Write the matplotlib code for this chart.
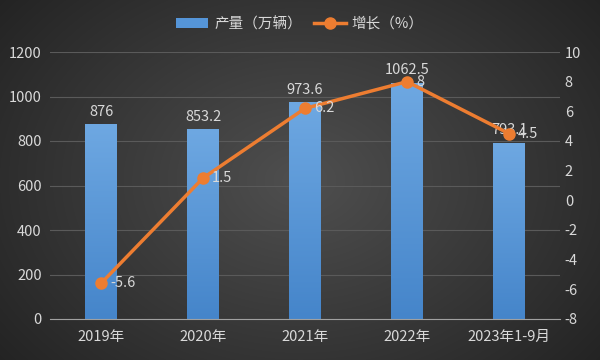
import numpy as np
import matplotlib
matplotlib.use("Agg")
import matplotlib.pyplot as plt
from matplotlib.lines import Line2D
from matplotlib.patches import Patch
from matplotlib.colors import LinearSegmentedColormap

plt.rcParams['font.family'] = ['Noto Sans CJK SC', 'DejaVu Sans']
plt.rcParams['axes.unicode_minus'] = False

categories = ["2019年", "2020年", "2021年", "2022年", "2023年1-9月"]
production = [876, 853.2, 973.6, 1062.5, 793.1]
growth = [-5.6, 1.5, 6.2, 8, 4.5]
prod_labels = ["876", "853.2", "973.6", "1062.5", "793.1"]
growth_labels = ["-5.6", "1.5", "6.2", "8", "4.5"]

W, H = 600, 360
fig = plt.figure(figsize=(W/100, H/100), dpi=100)

# background radial gradient
bg = fig.add_axes([0, 0, 1, 1])
yy, xx = np.mgrid[0:H, 0:W]
r = np.sqrt(((xx - W/2)/(W*0.6))**2 + ((yy - H/2)/(H*0.75))**2)
val = np.clip(0.31 - 0.16*r, 0.13, 0.31)
img = np.dstack([val, val, val])
bg.imshow(img, aspect='auto', extent=[0, 1, 0, 1])
bg.axis('off')

txt = '#d9d9d9'
fs = 10.5
ax = fig.add_axes([50/W, 1-319/H, (560-50)/W, (319-52)/H])
ax.patch.set_alpha(0)
x = np.arange(len(categories))
bars = ax.bar(x, production, width=0.31, color='#5595d8', zorder=2)
ax.set_ylim(0, 1200)
ax.set_yticks(np.arange(0, 1201, 200))
ax.set_xlim(-0.5, len(categories)-0.5)

# vertical gradient on bars
cmap = LinearSegmentedColormap.from_list('b', ['#4585ca', '#6ea8e2'])
grad = np.linspace(0, 1, 256).reshape(-1, 1)
for b in bars:
    bx, by = b.get_x(), b.get_y()
    bw, bh = b.get_width(), b.get_height()
    im = ax.imshow(grad, cmap=cmap, origin='lower', aspect='auto',
                   extent=[bx, bx + bw, by, by + bh], zorder=2)
    im.set_clip_path(b)
ax.set_xlim(-0.5, len(categories)-0.5)
ax.set_ylim(0, 1200)

ax.set_xticks(x)
ax.set_xticklabels(categories)
ax.grid(axis='y', color='#5a5a5a', linewidth=0.8, zorder=0)
for s in ['top', 'right', 'left']:
    ax.spines[s].set_visible(False)
ax.spines['bottom'].set_color('#a0a0a0')
ax.tick_params(axis='both', length=0, colors=txt, labelsize=fs)
ax.tick_params(axis='x', pad=8)
ax.tick_params(axis='y', pad=6)
for xi, v, lab in zip(x, production, prod_labels):
    ax.text(xi, v + 25, lab, ha='center', va='bottom', color=txt, fontsize=fs)

ax2 = ax.twinx()
ax2.set_ylim(-8, 10)
ax2.set_yticks(np.arange(-8, 11, 2))
for s in ax2.spines.values():
    s.set_visible(False)
ax2.tick_params(axis='y', length=0, colors=txt, labelsize=fs)
ax2.plot(x, growth, color='#ed7d31', linewidth=2.5, marker='o', markersize=8, zorder=3)
for xi, v, lab in zip(x, growth, growth_labels):
    ax2.text(xi + 0.09, v, lab, ha='left', va='center', color=txt, fontsize=fs)

handles = [Patch(facecolor='#5595d8', label='产量（万辆）'),
           Line2D([0], [0], color='#ed7d31', lw=2.5, marker='o', markersize=8, label='增长（%）')]
leg = fig.legend(handles=handles, loc='center', bbox_to_anchor=(0.5, 1-24/H), ncol=2,
                 frameon=False, fontsize=fs, labelcolor=txt, handlelength=2.2,
                 columnspacing=0.8, handletextpad=0.4)

fig.savefig('out.png', dpi=100)
